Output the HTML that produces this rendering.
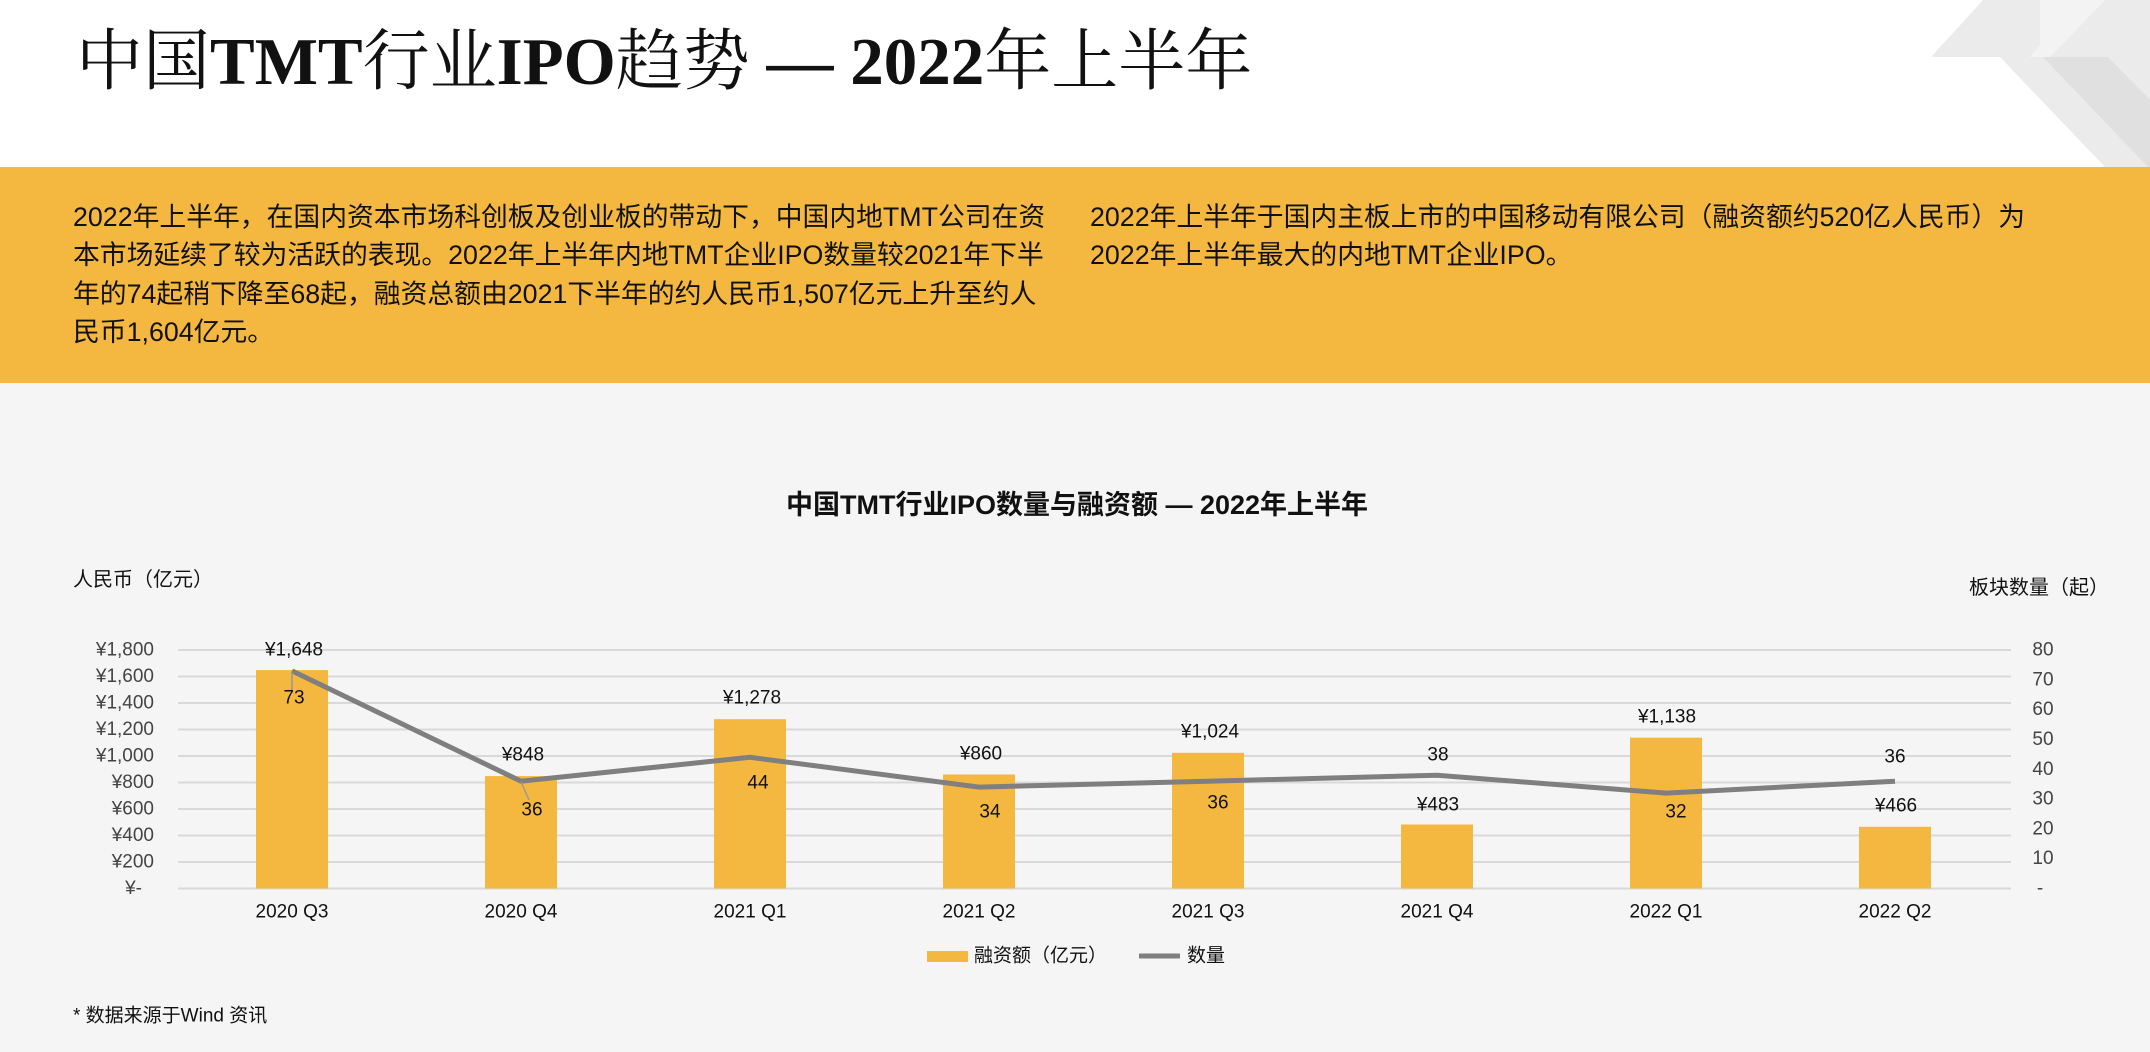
<!DOCTYPE html>
<html><head><meta charset="utf-8"><style>
html,body{margin:0;padding:0;}
body{width:2150px;height:1052px;position:relative;background:#f5f5f5;overflow:hidden;font-family:"Liberation Sans","Noto Sans CJK SC",sans-serif;}
.top{position:absolute;left:0;top:0;width:2150px;height:167px;background:#fff;}
.title{position:absolute;left:76px;top:22px;font-family:"Liberation Serif","Noto Serif CJK SC",serif;font-size:67px;color:#111;white-space:nowrap;line-height:80px;}
.title b{font-weight:bold;}
.band{position:absolute;left:0;top:167px;width:2150px;height:216px;background:#f4b841;}
.p{position:absolute;top:31px;font-size:26.8px;line-height:38.4px;color:#111;white-space:nowrap;}
</style></head><body>
<div class="top"></div>
<svg style="position:absolute;left:0;top:0" width="2150" height="167">
<polygon points="1983,0 2150,0 2150,167 2105,167 2000,57 1931,57" fill="#ebebeb"/>
<polygon points="2043,57 2108,57 2150,100 2150,167 2148,167" fill="#e0e0e0"/>
<polygon points="2040,0 2105,0 2050,57 2040,57 2030,57 2040,45" fill="#f3f3f3"/>
</svg>
<div class="title">中国<b>TMT</b>行业<b>IPO</b>趋势 <b>— 2022</b>年上半年</div>
<div class="band">
<div class="p" style="left:73px;">2022年上半年，在国内资本市场科创板及创业板的带动下，中国内地TMT公司在资<br>本市场延续了较为活跃的表现。2022年上半年内地TMT企业IPO数量较2021年下半<br>年的74起稍下降至68起，融资总额由2021下半年的约人民币1,507亿元上升至约人<br>民币1,604亿元。</div>
<div class="p" style="left:1090px;">2022年上半年于国内主板上市的中国移动有限公司（融资额约520亿人民币）为<br>2022年上半年最大的内地TMT企业IPO。</div>
</div>
<svg style="position:absolute;left:0;top:0" width="2150" height="1052" font-family="Liberation Sans, Noto Sans CJK SC, sans-serif">
<text x="1077" y="505" text-anchor="middle" dominant-baseline="central" font-size="27" font-weight="bold" fill="#111">中国TMT行业IPO数量与融资额 — 2022年上半年</text>
<text x="73" y="580" dominant-baseline="central" font-size="20" fill="#111">人民币（亿元）</text>
<text x="2109" y="588" text-anchor="end" dominant-baseline="central" font-size="20" fill="#111">板块数量（起）</text>
<g stroke="#d9d9d9" stroke-width="2">
<line x1="178" x2="2011" y1="650" y2="650"/><line x1="178" x2="2011" y1="676.5" y2="676.5"/><line x1="178" x2="2011" y1="703" y2="703"/><line x1="178" x2="2011" y1="729.5" y2="729.5"/><line x1="178" x2="2011" y1="756" y2="756"/><line x1="178" x2="2011" y1="782.5" y2="782.5"/><line x1="178" x2="2011" y1="809" y2="809"/><line x1="178" x2="2011" y1="835.5" y2="835.5"/><line x1="178" x2="2011" y1="862" y2="862"/><line x1="178" x2="2011" y1="888.5" y2="888.5"/>
</g>
<g font-size="19" fill="#444" text-anchor="end" dominant-baseline="central">
<text x="154" y="650">¥1,800</text><text x="154" y="676.5">¥1,600</text><text x="154" y="703">¥1,400</text><text x="154" y="729.5">¥1,200</text><text x="154" y="756">¥1,000</text><text x="154" y="782.5">¥800</text><text x="154" y="809">¥600</text><text x="154" y="835.5">¥400</text><text x="154" y="862">¥200</text><text x="142" y="888.5">¥-</text>
</g>
<g font-size="19" fill="#444" text-anchor="middle" dominant-baseline="central">
<text x="2043" y="650">80</text><text x="2043" y="679.8">70</text><text x="2043" y="709.6">60</text><text x="2043" y="739.4">50</text><text x="2043" y="769.3">40</text><text x="2043" y="799.1">30</text><text x="2043" y="828.9">20</text><text x="2043" y="858.7">10</text><text x="2040" y="888.5">-</text>
</g>
<g fill="#f4b841">
<rect x="256" y="670.1" width="72" height="218.4"/>
<rect x="485" y="776.1" width="72" height="112.4"/>
<rect x="714" y="719.2" width="72" height="169.3"/>
<rect x="943" y="774.5" width="72" height="114"/>
<rect x="1172" y="752.8" width="72" height="135.7"/>
<rect x="1401" y="824.5" width="72" height="64"/>
<rect x="1630" y="737.7" width="72" height="150.8"/>
<rect x="1859" y="826.8" width="72" height="61.7"/>
</g>
<polyline fill="none" stroke="#7f7f7f" stroke-width="5" points="292,670.9 521,781.2 750,757.3 979,787.1 1208,781.2 1437,775.2 1666,793.1 1895,781.2"/>
<line x1="292" y1="672" x2="292" y2="690" stroke="#999" stroke-width="1.5"/>
<line x1="521" y1="782" x2="529" y2="800" stroke="#999" stroke-width="1.5"/>
<g font-size="19" fill="#111" text-anchor="middle" dominant-baseline="central">
<text x="294" y="650">¥1,648</text><text x="523" y="755">¥848</text><text x="752" y="698">¥1,278</text><text x="981" y="754">¥860</text><text x="1210" y="732">¥1,024</text><text x="1438" y="805">¥483</text><text x="1667" y="717">¥1,138</text><text x="1896" y="806">¥466</text>
<text x="294" y="698">73</text><text x="532" y="810">36</text><text x="758" y="783">44</text><text x="990" y="812">34</text><text x="1218" y="803">36</text><text x="1438" y="755">38</text><text x="1676" y="812">32</text><text x="1895" y="757">36</text>
<text x="292" y="912">2020 Q3</text><text x="521" y="912">2020 Q4</text><text x="750" y="912">2021 Q1</text><text x="979" y="912">2021 Q2</text><text x="1208" y="912">2021 Q3</text><text x="1437" y="912">2021 Q4</text><text x="1666" y="912">2022 Q1</text><text x="1895" y="912">2022 Q2</text>
</g>
<rect x="927" y="951" width="41" height="11" fill="#f4b841"/>
<text x="974" y="956" dominant-baseline="central" font-size="19" fill="#111">融资额（亿元）</text>
<line x1="1139" x2="1180" y1="956" y2="956" stroke="#7f7f7f" stroke-width="5"/>
<text x="1187" y="956" dominant-baseline="central" font-size="19" fill="#111">数量</text>
<text x="73" y="1016" dominant-baseline="central" font-size="19" fill="#111">* 数据来源于Wind 资讯</text>
</svg>
</body></html>
